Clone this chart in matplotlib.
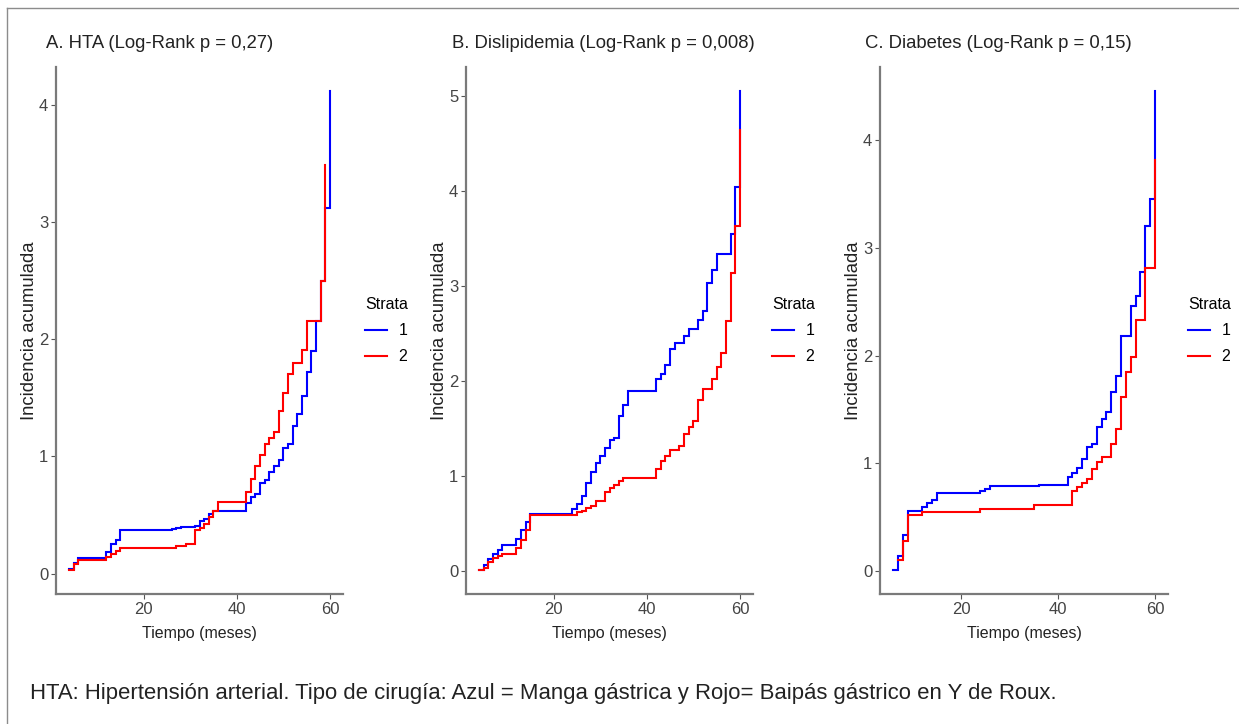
import matplotlib
matplotlib.use("Agg")
import matplotlib.pyplot as plt
from matplotlib.lines import Line2D

plt.rcParams['font.family'] = ['Liberation Sans', 'DejaVu Sans']

# ---------------- data ----------------
titles = ["A. HTA (Log-Rank p = 0,27)",
          "B. Dislipidemia (Log-Rank p = 0,008)",
          "C. Diabetes (Log-Rank p = 0,15)"]

a_t1 = [4, 5, 6, 12, 13, 14, 15, 26, 27, 28, 31, 32, 33, 34, 35, 42, 43, 44, 45, 46, 47, 48, 49,
        50, 51, 52, 53, 54, 55, 56, 57, 58, 59, 60]
a_y1 = [0.04, 0.09, 0.13, 0.18, 0.25, 0.29, 0.37, 0.38, 0.39, 0.40, 0.41, 0.45, 0.47, 0.51, 0.53,
        0.60, 0.65, 0.675, 0.77, 0.80, 0.87, 0.92, 0.97, 1.07, 1.11, 1.26, 1.36, 1.52, 1.72, 1.90,
        2.16, 2.50, 3.12, 4.12]
a_t2 = [4, 5, 6, 12, 13, 14, 15, 27, 29, 31, 32, 33, 34, 35, 36, 42, 43, 44, 45, 46, 47, 48, 49,
        50, 51, 52, 54, 55, 58, 59]
a_y2 = [0.03, 0.085, 0.12, 0.14, 0.17, 0.195, 0.22, 0.235, 0.25, 0.37, 0.39, 0.425, 0.48, 0.53,
        0.61, 0.70, 0.81, 0.92, 1.01, 1.105, 1.156, 1.21, 1.39, 1.54, 1.70, 1.80, 1.91, 2.16, 2.50,
        3.49]

b_t1 = [4, 5, 6, 7, 8, 9, 12, 13, 14, 15, 24, 25, 26, 27, 28, 29, 30, 31, 32, 33, 34, 35, 36,
        42, 43, 44, 45, 46, 48, 49, 51, 52, 53, 54, 55, 58, 59, 60]
b_y1 = [0.01, 0.06, 0.13, 0.18, 0.22, 0.27, 0.34, 0.43, 0.52, 0.60, 0.65, 0.70, 0.79, 0.93, 1.04,
        1.14, 1.21, 1.29, 1.38, 1.40, 1.63, 1.75, 1.89, 2.02, 2.07, 2.17, 2.34, 2.40, 2.47, 2.55,
        2.64, 2.73, 3.03, 3.17, 3.34, 3.54, 4.04, 5.05]
b_t2 = [4, 5, 6, 7, 8, 9, 12, 13, 14, 15, 25, 26, 27, 28, 29, 31, 32, 33, 34, 35, 42, 43, 44, 45,
        47, 48, 49, 50, 51, 52, 54, 55, 56, 57, 58, 59, 60]
b_y2 = [0.01, 0.03, 0.09, 0.14, 0.16, 0.18, 0.24, 0.33, 0.43, 0.59, 0.62, 0.63, 0.66, 0.68, 0.74,
        0.83, 0.87, 0.90, 0.945, 0.98, 1.07, 1.16, 1.21, 1.27, 1.32, 1.44, 1.51, 1.58, 1.80, 1.91,
        2.02, 2.15, 2.29, 2.63, 3.13, 3.63, 4.64]

c_t1 = [6, 7, 8, 9, 12, 13, 14, 15, 24, 25, 26, 36, 42, 43, 44, 45, 46, 47, 48, 49, 50, 51, 52,
        53, 55, 56, 57, 58, 59, 60]
c_y1 = [0.01, 0.14, 0.34, 0.56, 0.60, 0.63, 0.66, 0.725, 0.74, 0.76, 0.79, 0.80, 0.87, 0.915,
        0.96, 1.04, 1.15, 1.18, 1.34, 1.41, 1.48, 1.66, 1.815, 2.18, 2.46, 2.56, 2.78, 3.21, 3.46,
        4.46]
c_t2 = [7, 8, 9, 12, 24, 35, 43, 44, 45, 46, 47, 48, 49, 51, 52, 53, 54, 55, 56, 58, 60]
c_y2 = [0.10, 0.28, 0.52, 0.545, 0.575, 0.615, 0.74, 0.78, 0.82, 0.86, 0.95, 1.01, 1.06, 1.18,
        1.32, 1.62, 1.85, 1.99, 2.33, 2.82, 3.82]

yticks = [[0, 1, 2, 3, 4], [0, 1, 2, 3, 4, 5], [0, 1, 2, 3, 4]]
xticks = [20, 40, 60]
strata = ["1", "2"]
caption = ("HTA: Hipertensión arterial. Tipo de cirugía: Azul = Manga gástrica y "
           "Rojo= Baipás gástrico en Y de Roux.")

series = [((a_t1, a_y1), (a_t2, a_y2)),
          ((b_t1, b_y1), (b_t2, b_y2)),
          ((c_t1, c_y1), (c_t2, c_y2))]

# ---------------- layout ----------------
W, H = 1239, 724
fig = plt.figure(figsize=(W / 100, H / 100), dpi=100)

panels_px = [(56, 343), (466, 753), (880, 1168)]   # left/right of panel in px
top_px, bot_px = 67, 594
title_x = [46, 452, 865]
legend_x = [365, 772, 1188]

spine_col = '#7a7a7a'
colors = ['#0000FF', '#FF0000']

for i, (l, r) in enumerate(panels_px):
    ax = fig.add_axes([l / W, 1 - bot_px / H, (r - l) / W, (bot_px - top_px) / H])
    for (t, y), col, lab in zip(series[i], colors, strata):
        ax.step(t, y, where='post', color=col, lw=1.5, label=lab, solid_joinstyle='miter')
    ax.margins(x=0.05, y=0.05)
    for s in ['top', 'right']:
        ax.spines[s].set_visible(False)
    for s in ['left', 'bottom']:
        ax.spines[s].set_color(spine_col)
        ax.spines[s].set_linewidth(1.6)
    ax.set_xticks(xticks)
    ax.set_yticks(yticks[i])
    ax.tick_params(axis='both', colors='#555555', labelcolor='#444444', labelsize=12,
                   length=3.5, width=0.8, pad=2)
    ax.set_xlabel("Tiempo (meses)", fontsize=11.5, color='#222222', labelpad=7)
    ax.set_ylabel("Incidencia acumulada", fontsize=13.3, color='#222222', labelpad=1)
    fig.text(title_x[i] / W, 1 - 44 / H, titles[i], fontsize=13.3, color='#222222',
             ha='left', va='center')
    leg = ax.legend(title="Strata", loc='upper left',
                    bbox_to_anchor=(legend_x[i] / W, 1 - 297 / H),
                    bbox_transform=fig.transFigure, frameon=False, fontsize=11.5,
                    title_fontsize=11.5, handlelength=1.35, handletextpad=0.75,
                    labelspacing=0.7, borderaxespad=0, borderpad=0)
    leg._legend_box.align = "left"

fig.text(30 / W, 1 - 693 / H, caption, fontsize=15.9, color='#222222', ha='left', va='center')

# outer frame (top and left edges visible)
fig.add_artist(Line2D([7 / W, 1.0], [1 - 8 / H, 1 - 8 / H], transform=fig.transFigure,
                      color='#8c8c8c', lw=1.0))
fig.add_artist(Line2D([7 / W, 7 / W], [0, 1 - 8 / H], transform=fig.transFigure,
                      color='#8c8c8c', lw=1.0))

fig.savefig("out.png", dpi=100, facecolor='white')
